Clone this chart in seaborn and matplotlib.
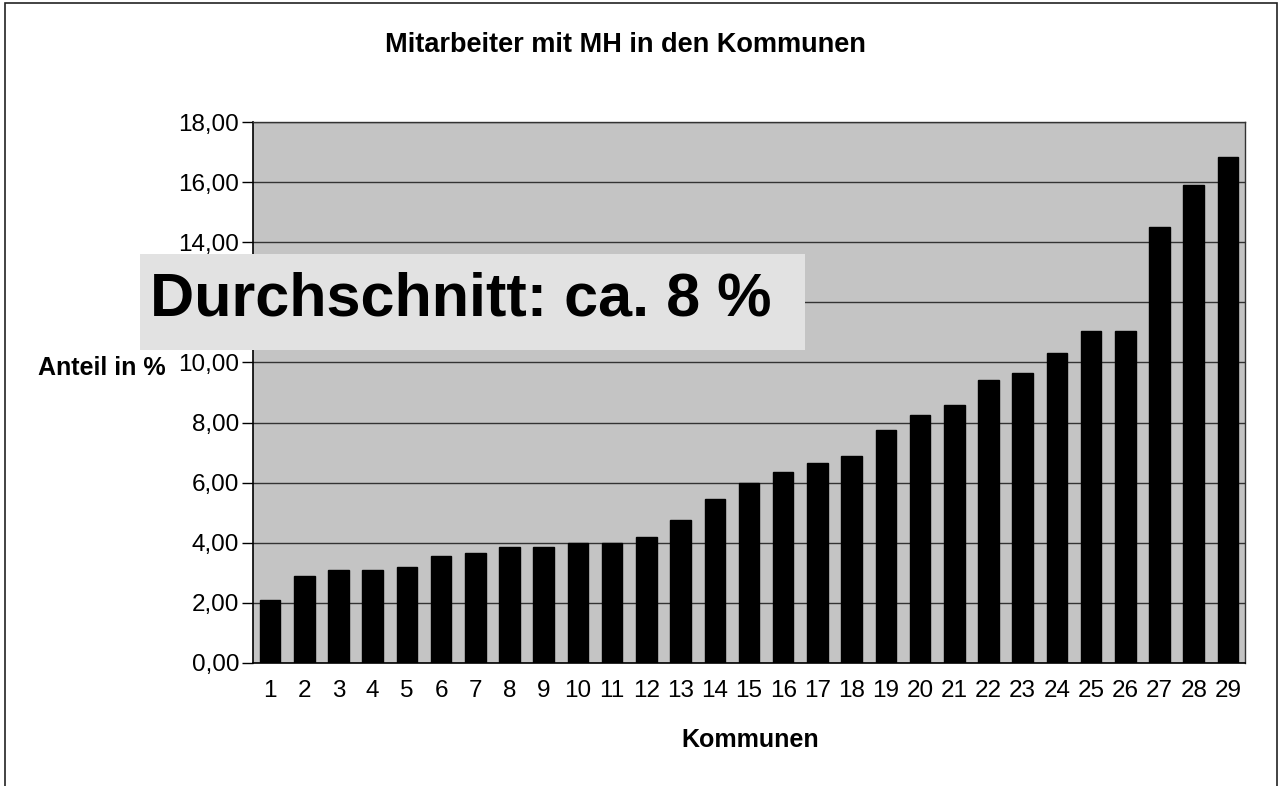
import matplotlib
matplotlib.use('Agg')
import matplotlib.pyplot as plt
import matplotlib.patches as mpatches
import seaborn as sns
import pandas as pd

# Werte
kommunen = [str(i) for i in range(1, 30)]
anteil = [2.1, 2.9, 3.1, 3.1, 3.2, 3.55, 3.65, 3.85, 3.85, 4.0,
          4.0, 4.2, 4.75, 5.45, 6.0, 6.35, 6.65, 6.9, 7.75, 8.25,
          8.6, 9.4, 9.65, 10.3, 11.05, 11.05, 14.5, 15.9, 16.85]
y_ticks = [0, 2, 4, 6, 8, 10, 12, 14, 16, 18]

titel = 'Mitarbeiter mit MH in den Kommunen'
y_label = 'Anteil in %'
x_label = 'Kommunen'
hinweis = 'Durchschnitt: ca. 8 %'

df = pd.DataFrame({'Kommune': kommunen, 'Anteil': anteil})

sns.set_style('white')
plt.rcParams['font.family'] = ['Liberation Sans', 'DejaVu Sans']
plt.rcParams['text.color'] = 'black'
plt.rcParams['xtick.color'] = 'black'
plt.rcParams['ytick.color'] = 'black'

fig = plt.figure(figsize=(12.8, 7.86), dpi=100)
ax = fig.add_axes([253/1280, 1 - 663/786, 992/1280, 541/786])
ax.set_facecolor('#c4c4c4')

sns.barplot(data=df, x='Kommune', y='Anteil', color='black', width=0.6,
            saturation=1, edgecolor='black', ax=ax, zorder=3)

ax.set_ylim(0, 18)
ax.set_xlim(-0.5, len(kommunen) - 0.5)
ax.set_yticks(y_ticks)
# 12,00 liegt in der Vorlage hinter der Hinweisbox
ax.set_yticklabels(['' if v == 12 else f'{v:.2f}'.replace('.', ',') for v in y_ticks],
                   fontsize=17.5)
ax.yaxis.grid(True, color='#333333', linewidth=1.0)
ax.set_axisbelow(True)

# Ticks zwischen den Kategorien, Beschriftung in der Mitte
ax.set_xticks([i - 0.5 for i in range(len(kommunen) + 1)])
ax.set_xticklabels([])
ax.set_xticks(range(len(kommunen)), minor=True)
ax.set_xticklabels(kommunen, minor=True, fontsize=17.5)
ax.tick_params(axis='x', which='major', length=10, width=1, direction='out', color='black')
ax.tick_params(axis='x', which='minor', length=0, pad=12)
ax.tick_params(axis='y', length=8, width=1, direction='out', color='black', pad=2, left=True)

for s in ['left', 'bottom']:
    ax.spines[s].set_color('black')
    ax.spines[s].set_linewidth(1.2)
for s in ['top', 'right']:
    ax.spines[s].set_color('#333333')
    ax.spines[s].set_linewidth(1.0)

ax.set_xlabel('')
ax.set_ylabel('')

fig.text(625/1280, 1 - 45/786, titel, ha='center', va='center', fontsize=19.5, fontweight='bold')
fig.text(102/1280, 1 - 368/786, y_label, ha='center', va='center', fontsize=18, fontweight='bold')
fig.text(750/1280, 1 - 740/786, x_label, ha='center', va='center', fontsize=18, fontweight='bold')

# Hinweisbox
box = mpatches.Rectangle((140/1280, 1 - 350/786), 665/1280, 96/786,
                         transform=fig.transFigure, facecolor='#e2e2e2',
                         edgecolor='none', zorder=10)
fig.patches.append(box)
fig.text(150/1280, 1 - 300/786, hinweis, ha='left', va='center',
         fontsize=44, fontweight='bold', zorder=11)

# Rahmen um die Grafik
rahmen = mpatches.Rectangle((5/1280, -0.01), 1272/1280, 1 - 3/786 + 0.01,
                            transform=fig.transFigure, facecolor='none',
                            edgecolor='#222222', linewidth=1.2, zorder=0)
fig.patches.append(rahmen)

fig.savefig('out.png', dpi=100)
